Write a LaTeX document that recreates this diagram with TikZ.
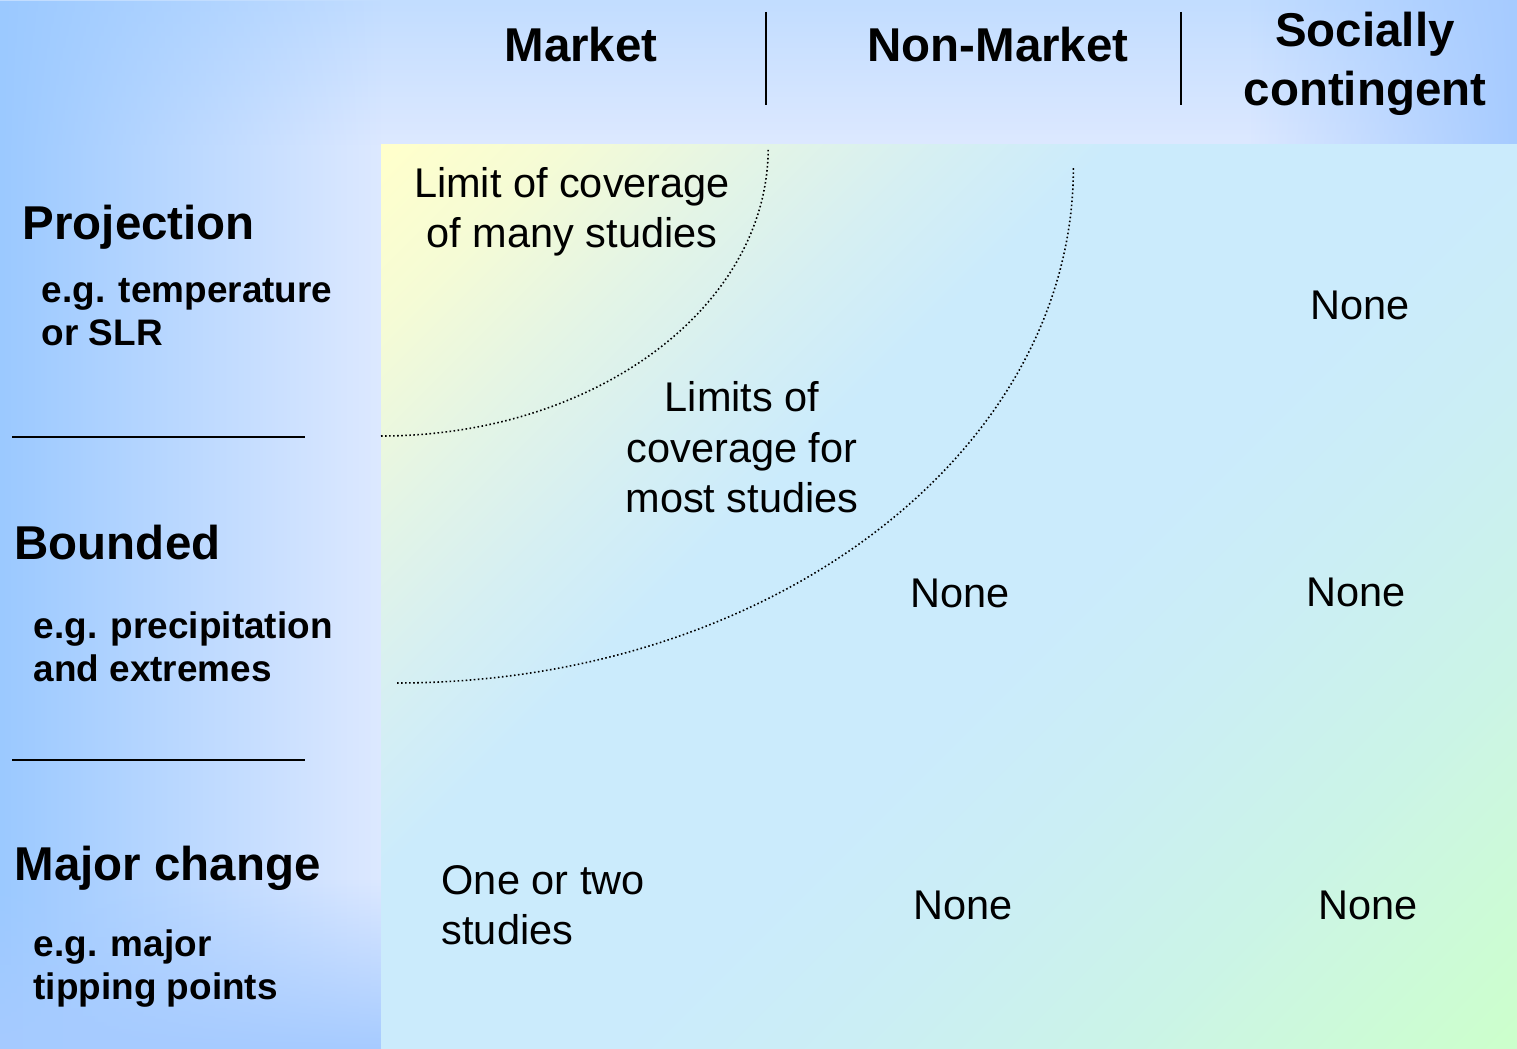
\documentclass[tikz,border=0pt]{standalone}
\usepackage{fontspec}
\setmainfont{Liberation Sans}
\usetikzlibrary{fadings}

\definecolor{slideblue}{HTML}{9BC9FF}
\definecolor{slidetop}{HTML}{C2DDFF}
\definecolor{slidelight}{HTML}{DDE9FF}
\definecolor{cornerblue}{HTML}{A6CBFF}
\definecolor{panelyellow}{HTML}{FFFFCC}
\definecolor{panelblue}{HTML}{CBEBFC}
\definecolor{panelgreen}{HTML}{CCFFCC}

% diagonal fill of the table body: yellow corner, pale blue, green corner
\pgfdeclareverticalshading{panelglow}{100bp}{%
  color(0bp)=(panelgreen); color(15bp)=(panelgreen);
  color(22bp)=(panelgreen!70!panelblue); color(28bp)=(panelgreen!45!panelblue);
  color(38bp)=(panelgreen!15!panelblue); color(46bp)=(panelblue);
  color(60bp)=(panelblue); color(66bp)=(panelyellow!20!panelblue);
  color(72bp)=(panelyellow!45!panelblue); color(79bp)=(panelyellow!80!panelblue);
  color(85bp)=(panelyellow); color(100bp)=(panelyellow)}

\begin{document}
\begin{tikzpicture}[
        x=0.01cm,
        y=-0.01cm,
        colhead/.style={font=\fontsize{13.5}{16.8}\selectfont\bfseries, inner sep=0pt, align=center, anchor=base},
        rowhead/.style={font=\fontsize{13.5}{16.8}\selectfont\bfseries, inner sep=0pt, anchor=base west},
        rowsub/.style={font=\fontsize{10.5}{12.5}\selectfont\bfseries, inner sep=0pt, align=left, anchor=base west},
        cell/.style={font=\fontsize{11.8}{14.5}\selectfont, inner sep=0pt, anchor=base},
        sep/.style={line width=0.65pt},
        limit/.style={line width=0.45pt, dash pattern=on 0.45pt off 0.7pt}
    ]
        % slide background, darker towards the edges
        \useasboundingbox (0,0) rectangle (1517,1049);
        \fill[slidelight] (0,0) rectangle (1517,1049);
        \fill[slidetop, path fading=south] (0,0) rectangle (1517,145);
        \fill[cornerblue, path fading=west] (1250,0) rectangle (1517,145);
        \fill[slideblue, path fading=east] (0,0) rectangle (381,1049);
        \fill[cornerblue, path fading=north] (0,880) rectangle (381,1049);
        \shade[shading=panelglow, shading angle=45] (381,145) rectangle (1517,1049);

        % column and row separators
        \draw[sep] (766,12) -- (766,105);
        \draw[sep] (1181,12) -- (1181,105);
        \draw[sep] (12,437) -- (305,437);
        \draw[sep] (12,760) -- (305,760);

        % coverage limits
        \draw[limit] (381,436) arc[start angle=-90, end angle=0, x radius=3.87cm, y radius=2.88cm];
        \draw[limit] (397,683) arc[start angle=-90, end angle=0, x radius=6.76cm, y radius=5.15cm];

        \node[colhead] (market) at (581,62) {Market};
        \node[colhead] (nonmarket) at (998,62) {Non-Market};
        \node[colhead] (social) at (1365,106) {Socially\\contingent};

        \node[rowhead] (proj) at (22,240) {Projection};
        \node[rowsub] (projeg) at (41,346) {e.g. temperature\\or SLR};
        \node[rowhead] (bound) at (14,560) {Bounded};
        \node[rowsub] (boundeg) at (33,682) {e.g. precipitation\\and extremes};
        \node[rowhead] (major) at (14,881) {Major change};
        \node[rowsub] (majoreg) at (33,1000) {e.g. major\\tipping points};

        \node[cell, align=center] (many) at (572,248) {Limit of coverage\\of many studies};
        \node[cell, align=center] (most) at (742,513) {Limits of\\coverage for\\most studies};
        \node[cell, align=left, anchor=base west] (few) at (441,945) {One or two\\studies};

        \foreach \name/\x/\y in {projsoc/1360/320, boundnon/960/608, boundsoc/1356/607,
                                 majornon/963/920, majorsoc/1368/920}
            \node[cell] (\name) at (\x,\y) {None};
\end{tikzpicture}
\end{document}
